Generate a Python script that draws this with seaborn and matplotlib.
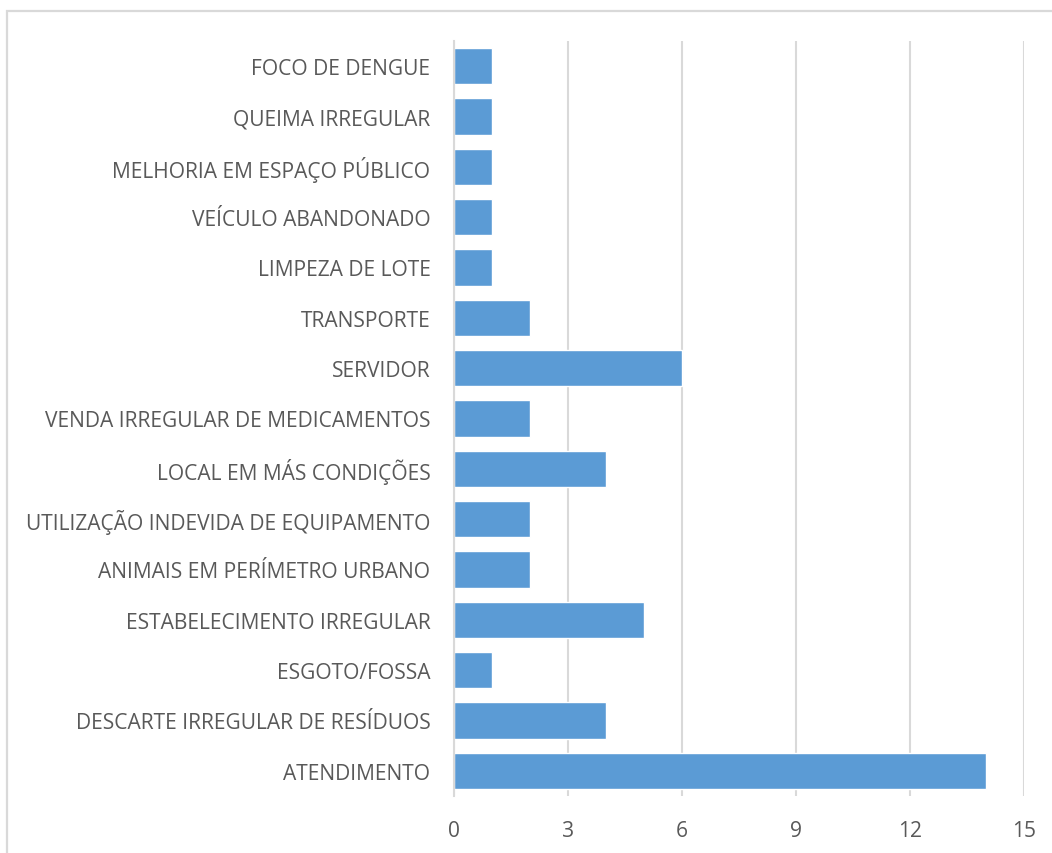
import matplotlib
matplotlib.use("Agg")
import matplotlib.pyplot as plt
import seaborn as sns
import pandas as pd
from matplotlib.patches import Rectangle

categories = [
    "FOCO DE DENGUE",
    "QUEIMA IRREGULAR",
    "MELHORIA EM ESPAÇO PÚBLICO",
    "VEÍCULO ABANDONADO",
    "LIMPEZA DE LOTE",
    "TRANSPORTE",
    "SERVIDOR",
    "VENDA IRREGULAR DE MEDICAMENTOS",
    "LOCAL EM MÁS CONDIÇÕES",
    "UTILIZAÇÃO INDEVIDA DE EQUIPAMENTO",
    "ANIMAIS EM PERÍMETRO URBANO",
    "ESTABELECIMENTO IRREGULAR",
    "ESGOTO/FOSSA",
    "DESCARTE IRREGULAR DE RESÍDUOS",
    "ATENDIMENTO",
]
counts = [1, 1, 1, 1, 1, 2, 6, 2, 4, 2, 2, 5, 1, 4, 14]
x_ticks = [0, 3, 6, 9, 12, 15]

df = pd.DataFrame({"categoria": categories, "quantidade": counts})

sns.set_style("white")
plt.rcParams["font.family"] = ["Open Sans", "DejaVu Sans"]

text_color = "#595959"
grid_color = "#d9d9d9"
bar_color = "#5b9bd5"

fig = plt.figure(figsize=(10.52, 8.54), dpi=100)
ax = fig.add_axes([454 / 1052, 1 - 797 / 854, 570 / 1052, 755 / 854])

sns.barplot(data=df, y="categoria", x="quantidade", orient="h",
            color=bar_color, saturation=1, width=0.72, ax=ax, zorder=3)

ax.set_xlim(0, 15)
ax.set_xticks(x_ticks)
ax.set_xticklabels([str(t) for t in x_ticks])
ax.set_xlabel("")
ax.set_ylabel("")

ax.grid(axis="x", color=grid_color, linewidth=1.5, zorder=0)
ax.set_axisbelow(True)
for side in ["top", "right", "bottom"]:
    ax.spines[side].set_visible(False)
ax.spines["left"].set_color(grid_color)
ax.spines["left"].set_linewidth(1.5)
ax.spines["left"].set_zorder(4)

ax.tick_params(axis="y", length=0, pad=17, labelsize=15.1, labelcolor=text_color)
ax.tick_params(axis="x", length=0, pad=17, labelsize=15.1, labelcolor=text_color)

# chart frame
fig.patches.append(Rectangle((7 / 1052, -0.1), 1.2, 1 - 12 / 854 + 0.1,
                             transform=fig.transFigure, fill=False,
                             edgecolor=grid_color, linewidth=1.6))

fig.savefig("out.png", dpi=100)
